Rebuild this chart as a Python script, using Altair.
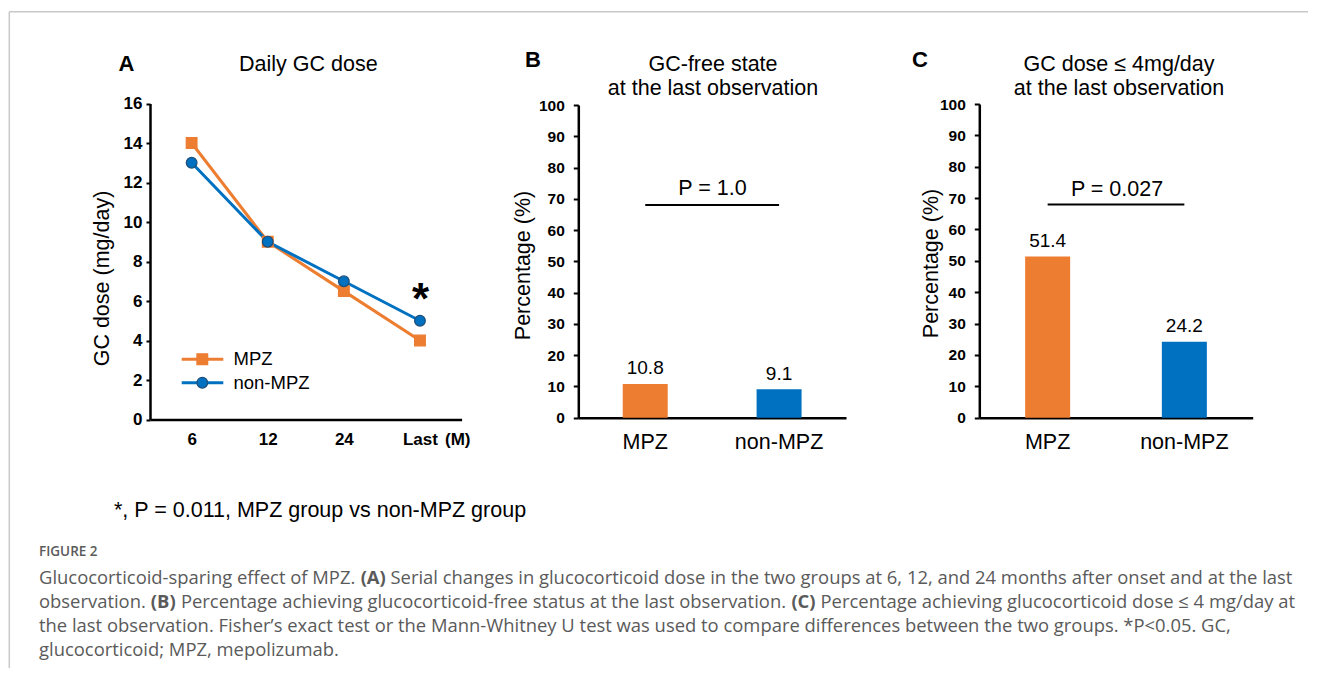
import altair as alt
import pandas as pd

# ---------------- data ----------------
months = ["6", "12", "24", "Last"]
groups = ["MPZ", "non-MPZ"]
dose_mpz = [14, 9, 6.5, 4]
dose_non_mpz = [13, 9, 7, 5]
gc_free_pct = [10.8, 9.1]
gc_le4_pct = [51.4, 24.2]
dose_ticks = [0, 2, 4, 6, 8, 10, 12, 14, 16]
pct_ticks = [0, 10, 20, 30, 40, 50, 60, 70, 80, 90, 100]
p_value_b = "P = 1.0"
p_value_c = "P = 0.027"
bracket_level = 68

caption_lines = [
    [("Glucocorticoid-sparing effect of MPZ. ", False), ("(A)", True),
     (" Serial changes in glucocorticoid dose in the two groups at 6, 12, and 24 months after onset and at the last", False)],
    [("observation. ", False), ("(B)", True),
     (" Percentage achieving glucocorticoid-free status at the last observation. ", False), ("(C)", True),
     (" Percentage achieving glucocorticoid dose \u2264 4 mg/day at", False)],
    [("the last observation. Fisher\u2019s exact test or the Mann-Whitney U test was used to compare differences between the two groups. *P<0.05. GC,", False)],
    [("glucocorticoid; MPZ, mepolizumab.", False)],
]

# ---------------- style ----------------
ORANGE = "#ED7D31"
BLUE = "#0070C0"
BLUE_EDGE = "#1F4E79"
FONT = "Liberation Sans"
CAP_FONT = "Open Sans"
CAP_COLOR = "#5a5a5a"
W, H = 1300, 660
M = 8


def X(v):
    return v - M


def Y(v):
    return v - M


def text_layer(text, x, y, size=21.5, weight="normal", align="center",
               font=FONT, color="black", baseline="alphabetic"):
    df = pd.DataFrame({"t": [text]})
    return alt.Chart(df).mark_text(
        align=align, baseline=baseline, font=font, fontSize=size,
        fontWeight=weight, color=color
    ).encode(x=alt.value(X(x)), y=alt.value(Y(y)), text="t:N")


# ---------------- panel A ----------------
scA_x = alt.Scale(type="point", domain=months, range=[X(150), X(461.6)], padding=0.547)
scA_y = alt.Scale(domain=[0, 16], range=[Y(419.5), Y(103.5)], nice=False, zero=False)
col_scale = alt.Scale(domain=groups, range=[ORANGE, BLUE])

axA_x = alt.Axis(orient="bottom", offset=Y(419.5) - H, title=None, labelAngle=0,
                 ticks=False, tickSize=0, domainColor="black", domainWidth=2.5,
                 labelFont=FONT, labelFontSize=17, labelFontWeight="bold",
                 labelColor="black", labelPadding=12.2, grid=False)
axA_y = alt.Axis(orient="left", offset=-X(150), values=dose_ticks, title="GC dose (mg/day)",
                 domainColor="black", domainWidth=2.5, tickColor="black", tickWidth=2,
                 tickSize=4, labelFont=FONT, labelFontSize=17, labelFontWeight="bold",
                 labelColor="black", labelPadding=4, grid=False,
                 titleFont=FONT, titleFontSize=21.5, titleFontWeight="normal",
                 titleColor="black", titleAngle=270, titleAlign="center",
                 titleBaseline="middle", titleX=X(102.5) - X(150), titleY=Y(278))

dfA = pd.DataFrame({
    "month": months * 2,
    "dose": dose_mpz + dose_non_mpz,
    "group": [groups[0]] * len(months) + [groups[1]] * len(months),
    "idx": list(range(len(months))) * 2,
})

lineA = alt.Chart(dfA).mark_line(strokeWidth=3).encode(
    x=alt.X("month:N", scale=scA_x, axis=axA_x),
    y=alt.Y("dose:Q", scale=scA_y, axis=axA_y),
    color=alt.Color("group:N", scale=col_scale, legend=None),
    order=alt.Order("idx:Q"),
)
ptsA = alt.Chart(dfA).mark_point(filled=True, opacity=1, strokeWidth=1.2, size=115).encode(
    x=alt.X("month:N", scale=scA_x, axis=None),
    y=alt.Y("dose:Q", scale=scA_y, axis=None),
    shape=alt.Shape("group:N", scale=alt.Scale(domain=groups, range=["square", "circle"]), legend=None),
    fill=alt.Fill("group:N", scale=col_scale, legend=None),
    stroke=alt.Stroke("group:N", scale=alt.Scale(domain=groups, range=[ORANGE, BLUE_EDGE]), legend=None),
)

# legend of panel A
dfL = pd.DataFrame({"group": groups})
scL_y = alt.Scale(type="point", domain=groups, range=[Y(359.3), Y(382.7)], padding=0)
legRule = alt.Chart(dfL).mark_rule(strokeWidth=3).encode(
    x=alt.value(X(181.7)), x2=alt.value(X(223.3)),
    y=alt.Y("group:N", scale=scL_y, axis=None),
    color=alt.Color("group:N", scale=col_scale, legend=None),
)
legPts = alt.Chart(dfL).mark_point(filled=True, opacity=1, strokeWidth=1.2, size=115).encode(
    x=alt.value(X(202.3)),
    y=alt.Y("group:N", scale=scL_y, axis=None),
    shape=alt.Shape("group:N", scale=alt.Scale(domain=groups, range=["square", "circle"]), legend=None),
    fill=alt.Fill("group:N", scale=col_scale, legend=None),
    stroke=alt.Stroke("group:N", scale=alt.Scale(domain=groups, range=[ORANGE, BLUE_EDGE]), legend=None),
)
legTxt = alt.Chart(dfL).mark_text(align="left", baseline="middle", font=FONT, fontSize=18.5,
                                  color="black").encode(
    x=alt.value(X(233.5)),
    y=alt.Y("group:N", scale=scL_y, axis=None),
    text="group:N",
)


# ---------------- bar panels ----------------
def bar_panel(values, x0, x1, y_top, y_axis_title_x, y_axis_title_y, p_text, p_x, p_base):
    scx = alt.Scale(type="band", domain=groups, range=[X(x0), X(x1)], paddingInner=0, paddingOuter=0)
    scy = alt.Scale(domain=[0, 100], range=[Y(417.7), Y(y_top)], nice=False, zero=False)
    axx = alt.Axis(orient="bottom", offset=Y(417.7) - H, title=None, labelAngle=0,
                   ticks=False, tickSize=0, domainColor="black", domainWidth=2.5,
                   labelFont=FONT, labelFontSize=21.5, labelFontWeight="normal",
                   labelColor="black", labelPadding=14, grid=False)
    axy = alt.Axis(orient="left", offset=-X(x0), values=pct_ticks, title="Percentage (%)",
                   domainColor="black", domainWidth=2.5, tickColor="black", tickWidth=2,
                   tickSize=5, labelFont=FONT, labelFontSize=15.5, labelFontWeight="bold",
                   labelColor="black", labelPadding=9, grid=False,
                   titleFont=FONT, titleFontSize=21.5, titleFontWeight="normal",
                   titleColor="black", titleAngle=270, titleAlign="center",
                   titleBaseline="middle", titleX=y_axis_title_x - x0, titleY=Y(y_axis_title_y))
    df = pd.DataFrame({"group": groups, "pct": values})
    bars = alt.Chart(df).mark_bar(width=45).encode(
        x=alt.X("group:N", scale=scx, axis=axx),
        y=alt.Y("pct:Q", scale=scy, axis=axy),
        color=alt.Color("group:N", scale=col_scale, legend=None),
    )
    lbl = alt.Chart(df).mark_text(baseline="alphabetic", dy=-9.5, font=FONT, fontSize=19,
                                  color="black").encode(
        x=alt.X("group:N", scale=scx, axis=None),
        y=alt.Y("pct:Q", scale=scy, axis=None),
        text=alt.Text("pct:Q", format=".1f"),
    )
    dfb = pd.DataFrame({"g1": [groups[0]], "g2": [groups[1]], "level": [bracket_level]})
    br = alt.Chart(dfb).mark_rule(strokeWidth=2, color="black").encode(
        x=alt.X("g1:N", scale=scx, axis=None, bandPosition=0.5),
        x2=alt.X2("g2", bandPosition=0.5),
        y=alt.Y("level:Q", scale=scy, axis=None),
    )
    ptxt = text_layer(p_text, p_x, p_base)
    return [bars, lbl, br, ptxt]


panelB = bar_panel(gc_free_pct, 578.3, 846, 105, 523, 265, p_value_b, 712.5, 195)
panelC = bar_panel(gc_le4_pct, 979.3, 1252.7, 104, 931, 263, p_value_c, 1117, 196)

# ---------------- annotations ----------------
annots = [
    text_layer("A", 126.5, 70.7, size=22, weight="bold"),
    text_layer("B", 533, 66.7, size=22, weight="bold"),
    text_layer("C", 920, 66.7, size=22, weight="bold"),
    text_layer("Daily GC dose", 308.3, 71),
    text_layer("GC-free state", 713, 71),
    text_layer("at the last observation", 713, 95),
    text_layer("GC dose \u2264 4mg/day", 1119, 71),
    text_layer("at the last observation", 1119, 95),
    text_layer("*", 420.5, 314, size=44, weight="bold"),
    text_layer("(M)", 445, 445, size=17, weight="bold", align="left"),
    text_layer("*, P = 0.011, MPZ group vs non-MPZ group", 114, 516.7, align="left"),
    text_layer("FIGURE 2", 39, 556, size=13.5, weight=600, align="left", font=CAP_FONT, color=CAP_COLOR),
]

# caption: approximate Open Sans advance widths (per 2048 em) to place bold segments
OS = {' ': 532, '\u2019': 336, "'": 453, '(': 606, ')': 606, '*': 1130, ',': 502, '-': 659,
      '.': 545, '/': 752, ';': 545, '<': 1171, '\u2264': 1171, '=': 1171,
      'A': 1296, 'B': 1327, 'C': 1292, 'D': 1493, 'E': 1139, 'F': 1057, 'G': 1491, 'H': 1511,
      'I': 571, 'J': 547, 'K': 1257, 'L': 1063, 'M': 1849, 'N': 1544, 'O': 1595, 'P': 1233,
      'Q': 1595, 'R': 1266, 'S': 1124, 'T': 1133, 'U': 1491, 'V': 1219, 'W': 1896, 'X': 1182,
      'Y': 1147, 'Z': 1169,
      'a': 1139, 'b': 1255, 'c': 975, 'd': 1255, 'e': 1149, 'f': 694, 'g': 1122, 'h': 1257,
      'i': 518, 'j': 518, 'k': 1075, 'l': 518, 'm': 1905, 'n': 1257, 'o': 1237, 'p': 1255,
      'q': 1255, 'r': 836, 's': 977, 't': 723, 'u': 1257, 'v': 1026, 'w': 1593, 'x': 1073,
      'y': 1028, 'z': 946}
for d in "0123456789":
    OS[d] = 1171
OSB = {'(': 694, ')': 694, 'A': 1399, 'B': 1425, 'C': 1323, ' ': 532}


def em_width(s, bold=False):
    tot = 0
    for ch in s:
        if bold and ch in OSB:
            tot += OSB[ch]
        else:
            tot += OS.get(ch, 1100)
    return tot / 2048.0


line1_em = sum(em_width(t, b) for t, b in caption_lines[0])
cap_fs = (1293 - 39) / line1_em
cap_base = [583.5, 607.5, 631.5, 655.5]
for segs, base in zip(caption_lines, cap_base):
    cx = 39.0
    for t, b in segs:
        lead = len(t) - len(t.lstrip(" "))
        cx_start = cx + em_width(" " * lead) * cap_fs
        stripped = t.strip(" ")
        annots.append(text_layer(stripped, cx_start, base, size=cap_fs,
                                 weight="bold" if b else "normal", align="left",
                                 font=CAP_FONT, color=CAP_COLOR))
        cx += em_width(t, b) * cap_fs

# border of the figure box
one = pd.DataFrame({"a": [0]})
border_v = alt.Chart(one).mark_rule(color="#c8c8c8", strokeWidth=1.5).encode(
    x=alt.value(X(9.3)), y=alt.value(Y(11.7)), y2=alt.value(H + 20))
border_h = alt.Chart(one).mark_rule(color="#c8c8c8", strokeWidth=1.5).encode(
    x=alt.value(X(9.3)), x2=alt.value(W + 20), y=alt.value(Y(11.7)))

layers = [border_v, border_h, lineA, ptsA, legRule, legPts, legTxt] + panelB + panelC + annots

chart = alt.layer(*layers).resolve_scale(
    x="independent", y="independent", color="independent", fill="independent",
    stroke="independent", shape="independent"
).resolve_axis(
    x="independent", y="independent"
).properties(
    width=W, height=H, padding=0, autosize=alt.AutoSizeParams(type="none"),
    background="white"
).configure_view(stroke=None).configure_axis(grid=False)

chart.save("out.html", embed_options={"renderer": "svg", "actions": False})
